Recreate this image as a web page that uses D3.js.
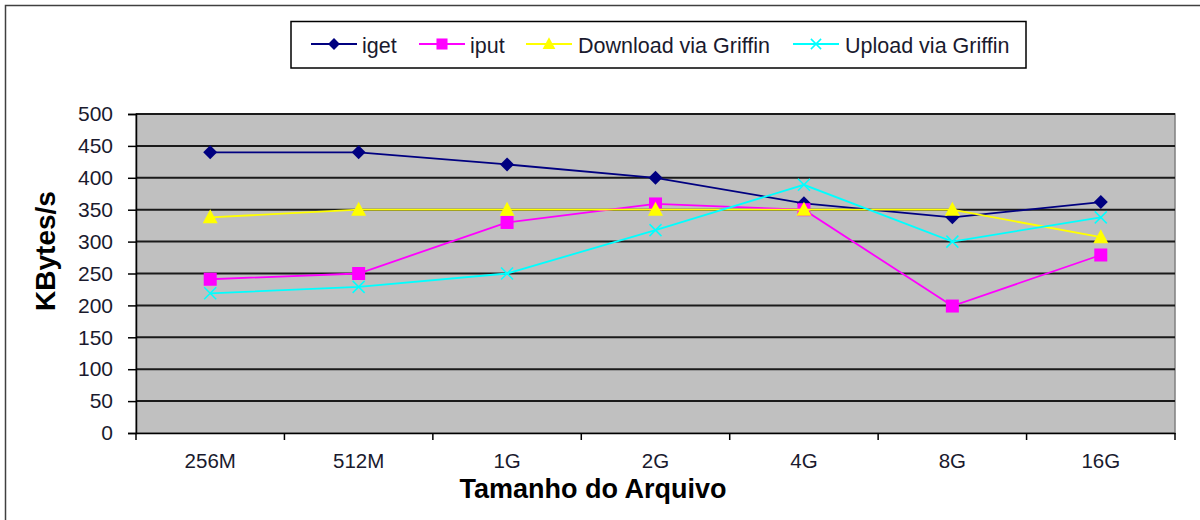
<!DOCTYPE html>
<html><head><meta charset="utf-8">
<script src="https://cdn.jsdelivr.net/npm/d3@7"></script>
<style>body{margin:0;background:#fff}svg{display:block}text{font-family:"Liberation Sans",Arial,sans-serif}</style>
</head><body><svg id="c" width="1200" height="520"></svg>
<script>
const categories = ["256M","512M","1G","2G","4G","8G","16G"];
const iget = [440,440,421,400,360,338,362];
const iput = [241,250,330,359,350,199,279];
const download = [338,350,350,350,350,350,307];
const upload = [219,229,250,318,389,300,338];
const yTicks = [0,50,100,150,200,250,300,350,400,450,500];
const seriesNames = ["iget","iput","Download via Griffin","Upload via Griffin"];

const series = [
  {name:seriesNames[0], values:iget, color:"#000080", marker:"diamond"},
  {name:seriesNames[1], values:iput, color:"#ff00ff", marker:"square"},
  {name:seriesNames[2], values:download, color:"#ffff00", marker:"triangle"},
  {name:seriesNames[3], values:upload, color:"#00ffff", marker:"x"}
];

const svg = d3.select("#c");
const L=136, R=1175, T=114, B=433;
const x = d3.scaleBand().domain(categories).range([L,R]).padding(0);
const y = d3.scaleLinear().domain([0,500]).range([B,T]);

// outer border
svg.append("rect").attr("x",5.5).attr("y",5.5).attr("width",1200).attr("height",520)
  .attr("fill","none").attr("stroke","#404040").attr("stroke-width",1.5);

// plot area
svg.append("rect").attr("x",L).attr("y",T).attr("width",R-L).attr("height",B-T)
  .attr("fill","#c0c0c0").attr("stroke","#808080").attr("stroke-width",1.5);

// gridlines
svg.append("g").selectAll("line").data(yTicks.filter(d=>d>0)).join("line")
  .attr("x1",L).attr("x2",R).attr("y1",d=>y(d)).attr("y2",d=>y(d))
  .attr("stroke","#1a1a1a").attr("stroke-width",2);

// y axis
const ya = svg.append("g").attr("transform",`translate(${L},0)`)
  .call(d3.axisLeft(y).tickValues(yTicks).tickSize(8).tickPadding(15));
ya.select(".domain").attr("stroke","#000").attr("stroke-width",1.5);
ya.selectAll(".tick line").attr("stroke","#000").attr("stroke-width",1.5);
ya.selectAll(".tick text").attr("font-size",21).attr("fill","#1a1a2e");

// x axis
const xa = svg.append("g").attr("transform",`translate(0,${B})`)
  .call(d3.axisBottom(x).tickSize(0).tickPadding(20));
xa.select(".domain").attr("stroke","#000").attr("stroke-width",1.5);
xa.selectAll(".tick text").attr("font-size",20.5).attr("fill","#1a1a2e");
// category boundary ticks
const bounds = categories.map(c=>x(c)).concat([x(categories[categories.length-1])+x.bandwidth()]);
svg.append("g").selectAll("line").data(bounds).join("line")
  .attr("x1",d=>d).attr("x2",d=>d).attr("y1",B).attr("y2",B+7)
  .attr("stroke","#000").attr("stroke-width",1.5);

// titles
svg.append("text").attr("transform",`translate(55,251) rotate(-90)`)
  .attr("text-anchor","middle").attr("font-size",28).attr("font-weight","bold").attr("fill","#000")
  .text("KBytes/s");
svg.append("text").attr("x",593).attr("y",498).attr("text-anchor","middle")
  .attr("font-size",27).attr("font-weight","bold").attr("fill","#000").text("Tamanho do Arquivo");

const cx = c => x(c)+x.bandwidth()/2;
function drawMarker(g, type, color, px, py, s){
  s = s || 1;
  if(type==="diamond"){
    g.append("path").attr("d",`M${px},${py-7*s}L${px+7*s},${py}L${px},${py+7*s}L${px-7*s},${py}Z`).attr("fill",color);
  } else if(type==="square"){
    g.append("rect").attr("x",px-6.5*s).attr("y",py-6.5*s).attr("width",13*s).attr("height",13*s).attr("fill",color);
  } else if(type==="triangle"){
    g.append("path").attr("d",`M${px},${py-8*s}L${px+7.5*s},${py+6*s}L${px-7.5*s},${py+6*s}Z`).attr("fill",color);
  } else {
    g.append("path").attr("d",`M${px-6*s},${py-6*s}L${px+6*s},${py+6*s}M${px+6*s},${py-6*s}L${px-6*s},${py+6*s}`)
      .attr("stroke",color).attr("stroke-width",1.5).attr("fill","none");
  }
}

const line = d3.line().x((d,i)=>cx(categories[i])).y(d=>y(d));
series.forEach(s=>{
  const g = svg.append("g");
  g.append("path").attr("d",line(s.values)).attr("fill","none").attr("stroke",s.color).attr("stroke-width",1.8);
  s.values.forEach((v,i)=>drawMarker(g,s.marker,s.color,cx(categories[i]),y(v)));
});

// legend
const lg = svg.append("g");
lg.append("rect").attr("x",291).attr("y",21.5).attr("width",735).attr("height",46.5)
  .attr("fill","#fff").attr("stroke","#000").attr("stroke-width",1.5);
const legPos = [{lx:311,tx:362},{lx:419,tx:470},{lx:526,tx:578},{lx:793,tx:845}];
series.forEach((s,i)=>{
  const p = legPos[i];
  const ly = 44;
  const g = lg.append("g");
  g.append("line").attr("x1",p.lx).attr("x2",p.lx+46).attr("y1",ly).attr("y2",ly).attr("stroke",s.color).attr("stroke-width",1.8);
  drawMarker(g,s.marker,s.color,p.lx+23,ly,0.85);
  g.append("text").attr("x",p.tx).attr("y",53).attr("font-size",21.5).attr("fill","#1a1a2e").text(s.name);
});
</script></body></html>
